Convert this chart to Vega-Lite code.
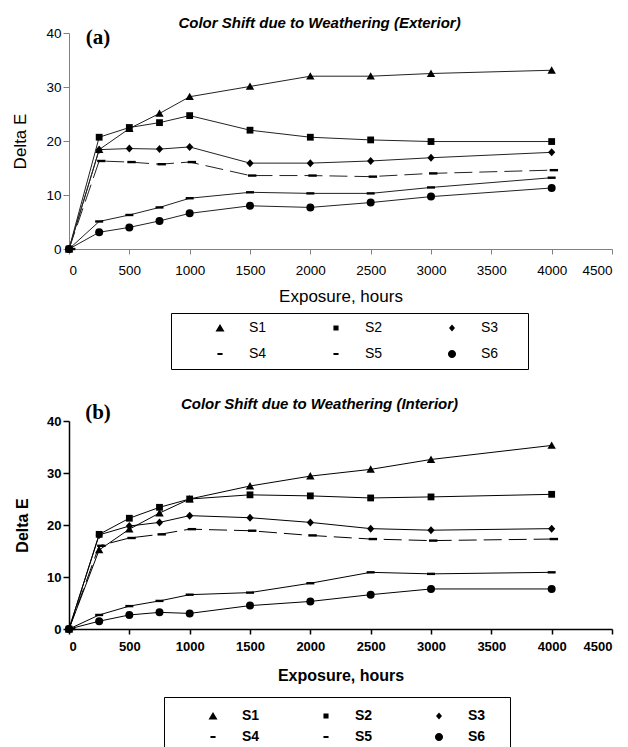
{
  "$schema": "https://vega.github.io/schema/vega-lite/v6.json",
  "background": "white",
  "padding": {"left": 11, "top": 16, "right": 5, "bottom": 0},
  "config": {
    "view": {"stroke": null},
    "font": "Liberation Sans",
    "axis": {"grid": false, "labelFont": "Liberation Sans", "titleFont": "Liberation Sans", "labelColor": "black", "titleColor": "black"}
  },
  "datasets": {
    "ext": [
      {"hours": 0, "series": "S1", "de": 0}, {"hours": 250, "series": "S1", "de": 18.4}, {"hours": 500, "series": "S1", "de": 22.3}, {"hours": 750, "series": "S1", "de": 25.1}, {"hours": 1000, "series": "S1", "de": 28.2}, {"hours": 1500, "series": "S1", "de": 30.1}, {"hours": 2000, "series": "S1", "de": 32.0}, {"hours": 2500, "series": "S1", "de": 32.0}, {"hours": 3000, "series": "S1", "de": 32.5}, {"hours": 4000, "series": "S1", "de": 33.1},
      {"hours": 0, "series": "S2", "de": 0}, {"hours": 250, "series": "S2", "de": 20.7}, {"hours": 500, "series": "S2", "de": 22.5}, {"hours": 750, "series": "S2", "de": 23.4}, {"hours": 1000, "series": "S2", "de": 24.7}, {"hours": 1500, "series": "S2", "de": 22.0}, {"hours": 2000, "series": "S2", "de": 20.7}, {"hours": 2500, "series": "S2", "de": 20.2}, {"hours": 3000, "series": "S2", "de": 19.9}, {"hours": 4000, "series": "S2", "de": 19.9},
      {"hours": 0, "series": "S3", "de": 0}, {"hours": 250, "series": "S3", "de": 18.4}, {"hours": 500, "series": "S3", "de": 18.6}, {"hours": 750, "series": "S3", "de": 18.5}, {"hours": 1000, "series": "S3", "de": 18.9}, {"hours": 1500, "series": "S3", "de": 15.9}, {"hours": 2000, "series": "S3", "de": 15.9}, {"hours": 2500, "series": "S3", "de": 16.3}, {"hours": 3000, "series": "S3", "de": 16.9}, {"hours": 4000, "series": "S3", "de": 17.9},
      {"hours": 0, "series": "S4", "de": 0}, {"hours": 250, "series": "S4", "de": 16.3}, {"hours": 500, "series": "S4", "de": 16.1}, {"hours": 750, "series": "S4", "de": 15.7}, {"hours": 1000, "series": "S4", "de": 16.1}, {"hours": 1500, "series": "S4", "de": 13.6}, {"hours": 2000, "series": "S4", "de": 13.6}, {"hours": 2500, "series": "S4", "de": 13.4}, {"hours": 3000, "series": "S4", "de": 14.0}, {"hours": 4000, "series": "S4", "de": 14.6},
      {"hours": 0, "series": "S5", "de": 0}, {"hours": 250, "series": "S5", "de": 5.1}, {"hours": 500, "series": "S5", "de": 6.3}, {"hours": 750, "series": "S5", "de": 7.7}, {"hours": 1000, "series": "S5", "de": 9.4}, {"hours": 1500, "series": "S5", "de": 10.5}, {"hours": 2000, "series": "S5", "de": 10.3}, {"hours": 2500, "series": "S5", "de": 10.3}, {"hours": 3000, "series": "S5", "de": 11.4}, {"hours": 4000, "series": "S5", "de": 13.2},
      {"hours": 0, "series": "S6", "de": 0}, {"hours": 250, "series": "S6", "de": 3.1}, {"hours": 500, "series": "S6", "de": 4.0}, {"hours": 750, "series": "S6", "de": 5.2}, {"hours": 1000, "series": "S6", "de": 6.6}, {"hours": 1500, "series": "S6", "de": 8.0}, {"hours": 2000, "series": "S6", "de": 7.7}, {"hours": 2500, "series": "S6", "de": 8.6}, {"hours": 3000, "series": "S6", "de": 9.7}, {"hours": 4000, "series": "S6", "de": 11.3}
    ],
    "int": [
      {"hours": 0, "series": "S1", "de": 0}, {"hours": 250, "series": "S1", "de": 15.2}, {"hours": 500, "series": "S1", "de": 19.2}, {"hours": 750, "series": "S1", "de": 22.3}, {"hours": 1000, "series": "S1", "de": 25.0}, {"hours": 1500, "series": "S1", "de": 27.5}, {"hours": 2000, "series": "S1", "de": 29.4}, {"hours": 2500, "series": "S1", "de": 30.7}, {"hours": 3000, "series": "S1", "de": 32.6}, {"hours": 4000, "series": "S1", "de": 35.3},
      {"hours": 0, "series": "S2", "de": 0}, {"hours": 250, "series": "S2", "de": 18.2}, {"hours": 500, "series": "S2", "de": 21.3}, {"hours": 750, "series": "S2", "de": 23.4}, {"hours": 1000, "series": "S2", "de": 25.0}, {"hours": 1500, "series": "S2", "de": 25.8}, {"hours": 2000, "series": "S2", "de": 25.6}, {"hours": 2500, "series": "S2", "de": 25.2}, {"hours": 3000, "series": "S2", "de": 25.4}, {"hours": 4000, "series": "S2", "de": 25.9},
      {"hours": 0, "series": "S3", "de": 0}, {"hours": 250, "series": "S3", "de": 18.1}, {"hours": 500, "series": "S3", "de": 19.8}, {"hours": 750, "series": "S3", "de": 20.5}, {"hours": 1000, "series": "S3", "de": 21.8}, {"hours": 1500, "series": "S3", "de": 21.4}, {"hours": 2000, "series": "S3", "de": 20.5}, {"hours": 2500, "series": "S3", "de": 19.3}, {"hours": 3000, "series": "S3", "de": 19.0}, {"hours": 4000, "series": "S3", "de": 19.3},
      {"hours": 0, "series": "S4", "de": 0}, {"hours": 250, "series": "S4", "de": 16.0}, {"hours": 500, "series": "S4", "de": 17.5}, {"hours": 750, "series": "S4", "de": 18.2}, {"hours": 1000, "series": "S4", "de": 19.2}, {"hours": 1500, "series": "S4", "de": 18.9}, {"hours": 2000, "series": "S4", "de": 18.0}, {"hours": 2500, "series": "S4", "de": 17.3}, {"hours": 3000, "series": "S4", "de": 17.0}, {"hours": 4000, "series": "S4", "de": 17.3},
      {"hours": 0, "series": "S5", "de": 0}, {"hours": 250, "series": "S5", "de": 2.7}, {"hours": 500, "series": "S5", "de": 4.4}, {"hours": 750, "series": "S5", "de": 5.4}, {"hours": 1000, "series": "S5", "de": 6.6}, {"hours": 1500, "series": "S5", "de": 7.0}, {"hours": 2000, "series": "S5", "de": 8.8}, {"hours": 2500, "series": "S5", "de": 10.9}, {"hours": 3000, "series": "S5", "de": 10.6}, {"hours": 4000, "series": "S5", "de": 10.9},
      {"hours": 0, "series": "S6", "de": 0}, {"hours": 250, "series": "S6", "de": 1.5}, {"hours": 500, "series": "S6", "de": 2.7}, {"hours": 750, "series": "S6", "de": 3.2}, {"hours": 1000, "series": "S6", "de": 3.0}, {"hours": 1500, "series": "S6", "de": 4.5}, {"hours": 2000, "series": "S6", "de": 5.3}, {"hours": 2500, "series": "S6", "de": 6.6}, {"hours": 3000, "series": "S6", "de": 7.7}, {"hours": 4000, "series": "S6", "de": 7.7}
    ]
  },
  "spacing": 27,
  "resolve": {"scale": {"shape": "independent", "x": "independent", "y": "independent"}, "legend": {"shape": "independent"}},
  "vconcat": [
    {
      "width": 543,
      "height": 216,
      "title": {"text": "Color Shift due to Weathering (Exterior)", "font": "Liberation Sans", "fontSize": 15, "fontWeight": "bold", "fontStyle": "italic", "color": "black", "anchor": "middle", "frame": "group", "dx": -21, "offset": -5},
      "data": {"name": "ext"},
      "resolve": {"scale": {"shape": "independent"}, "legend": {"shape": "independent"}},
      "layer": [
        {
          "transform": [{"filter": "datum.series !== 'S4'"}],
          "mark": {"type": "line", "strokeWidth": 1, "color": "#222222"},
          "encoding": {
            "x": {"field": "hours", "type": "quantitative", "scale": {"domain": [0, 4500], "nice": false}, "axis": {"values": [0, 500, 1000, 1500, 2000, 2500, 3000, 3500, 4000, 4500], "format": "d", "title": "Exposure, hours", "domainColor": "#808080", "tickColor": "#808080", "tickSize": 5, "labelFontSize": 13.5, "labelPadding": 9, "titleFontSize": 17, "titleFontWeight": "normal", "titlePadding": 12}},
            "y": {"field": "de", "type": "quantitative", "scale": {"domain": [0, 40], "nice": false}, "axis": {"values": [0, 10, 20, 30, 40], "title": "Delta E", "domainColor": "#808080", "tickColor": "#808080", "tickSize": 6, "labelFontSize": 13.5, "labelPadding": 2, "titleFontSize": 17, "titleFontWeight": "normal", "titlePadding": 16}},
            "detail": {"field": "series", "type": "nominal"}
          }
        },
        {
          "transform": [{"filter": "datum.series === 'S4'"}],
          "mark": {"type": "line", "strokeWidth": 1, "color": "#222222", "strokeDash": [18, 7]},
          "encoding": {
            "x": {"field": "hours", "type": "quantitative"},
            "y": {"field": "de", "type": "quantitative"}
          }
        },
        {
          "mark": {"type": "point", "filled": true, "size": 64, "color": "black", "opacity": 1},
          "encoding": {
            "x": {"field": "hours", "type": "quantitative"},
            "y": {"field": "de", "type": "quantitative"},
            "shape": {
              "field": "series", "type": "nominal",
              "scale": {"domain": ["S1", "S2", "S3", "S4", "S5", "S6"], "range": ["M0,-1L1.05,0.85H-1.05Z", "M-0.85,-0.85H0.85V0.85H-0.85Z", "M0,-1L0.9,0L0,1L-0.9,0Z", "M-0.5,-0.3H1.6V0.3H-0.5Z", "M-1,-0.3H1V0.3H-1Z", "circle"]},
              "legend": null
            }
          }
        },
        {
          "transform": [{"filter": "false"}],
          "mark": {"type": "point", "filled": true, "fill": "black", "stroke": "black", "strokeWidth": 1, "opacity": 1},
          "encoding": {
            "x": {"field": "hours", "type": "quantitative"},
            "y": {"field": "de", "type": "quantitative"},
            "shape": {
              "field": "series", "type": "nominal",
              "scale": {"domain": ["S1", "S2", "S3", "S4", "S5", "S6"], "range": ["M-8.7,0H8.7M0,-1.3L1.5,1.2H-1.5Z", "M-8.7,0H8.7M-0.85,-0.85H0.85V0.85H-0.85Z", "M-8.7,0H8.7M0,-1.2L1,0L0,1.2L-1,0Z", "M-8.7,0H-2.2M-0.85,-0.35H0.85V0.35H-0.85ZM2.5,0H8.7", "M-8.7,0H8.7M-0.85,-0.35H0.85V0.35H-0.85Z", "M-8.7,0H8.7M-1.35,0A1.35,1.35,0,1,0,1.35,0A1.35,1.35,0,1,0,-1.35,0Z"]},
              "legend": {
                "title": " ", "titleOrient": "right", "titlePadding": 22, "titleFontSize": 14,
                "orient": "none", "legendX": 102, "legendY": 280, "direction": "horizontal", "columns": 3,
                "strokeColor": "black", "padding": 8, "symbolSize": 36, "symbolOffset": 34, "labelOffset": 22,
                "labelFontSize": 14, "labelFont": "Liberation Sans", "labelColor": "black", "columnPadding": 28, "rowPadding": 12,
                "symbolFillColor": "black", "symbolStrokeColor": "black", "symbolStrokeWidth": 1, "symbolOpacity": 1,
                "encode": {"symbols": {"fill": {"value": "black"}, "stroke": {"value": "#333333"}, "strokeWidth": {"value": 1}, "opacity": {"value": 1}}}
              }
            }
          }
        },
        {
          "data": {"values": [{}]},
          "mark": {"type": "text", "text": "(a)", "font": "Liberation Serif", "fontSize": 21, "fontWeight": "bold", "align": "center", "baseline": "middle", "dx": 29, "dy": 5, "color": "black"},
          "encoding": {"x": {"datum": 0, "type": "quantitative"}, "y": {"datum": 40, "type": "quantitative"}}
        }
      ]
    },
    {
      "width": 543,
      "height": 208,
      "title": {"text": "Color Shift due to Weathering (Interior)", "font": "Liberation Sans", "fontSize": 15, "fontWeight": "bold", "fontStyle": "italic", "color": "black", "anchor": "middle", "frame": "group", "dx": -21, "offset": -10},
      "data": {"name": "int"},
      "resolve": {"scale": {"shape": "independent"}, "legend": {"shape": "independent"}},
      "layer": [
        {
          "transform": [{"filter": "datum.series !== 'S4'"}],
          "mark": {"type": "line", "strokeWidth": 1, "color": "black"},
          "encoding": {
            "x": {"field": "hours", "type": "quantitative", "scale": {"domain": [0, 4500], "nice": false}, "axis": {"values": [0, 500, 1000, 1500, 2000, 2500, 3000, 3500, 4000, 4500], "format": "d", "title": "Exposure, hours", "domainColor": "black", "domainWidth": 1.5, "tickColor": "black", "tickWidth": 1.5, "tickSize": 5, "labelFontSize": 13, "labelFontWeight": "bold", "labelPadding": 6, "titleFontSize": 16, "titleFontWeight": "bold", "titlePadding": 14}},
            "y": {"field": "de", "type": "quantitative", "scale": {"domain": [0, 40], "nice": false}, "axis": {"values": [0, 10, 20, 30, 40], "title": "Delta E", "domainColor": "black", "domainWidth": 1.5, "tickColor": "black", "tickWidth": 1.5, "tickSize": 6, "labelFontSize": 13, "labelFontWeight": "bold", "labelPadding": 2, "titleFontSize": 16, "titleFontWeight": "bold", "titlePadding": 16}},
            "detail": {"field": "series", "type": "nominal"}
          }
        },
        {
          "transform": [{"filter": "datum.series === 'S4'"}],
          "mark": {"type": "line", "strokeWidth": 1, "color": "black", "strokeDash": [18, 7]},
          "encoding": {
            "x": {"field": "hours", "type": "quantitative"},
            "y": {"field": "de", "type": "quantitative"}
          }
        },
        {
          "mark": {"type": "point", "filled": true, "size": 64, "color": "black", "opacity": 1},
          "encoding": {
            "x": {"field": "hours", "type": "quantitative"},
            "y": {"field": "de", "type": "quantitative"},
            "shape": {
              "field": "series", "type": "nominal",
              "scale": {"domain": ["S1", "S2", "S3", "S4", "S5", "S6"], "range": ["M0,-1L1.05,0.85H-1.05Z", "M-0.85,-0.85H0.85V0.85H-0.85Z", "M0,-1L0.9,0L0,1L-0.9,0Z", "M-0.5,-0.3H1.6V0.3H-0.5Z", "M-1,-0.3H1V0.3H-1Z", "circle"]},
              "legend": null
            }
          }
        },
        {
          "transform": [{"filter": "false"}],
          "mark": {"type": "point", "filled": true, "fill": "black", "stroke": "black", "strokeWidth": 1, "opacity": 1},
          "encoding": {
            "x": {"field": "hours", "type": "quantitative"},
            "y": {"field": "de", "type": "quantitative"},
            "shape": {
              "field": "series", "type": "nominal",
              "scale": {"domain": ["S1", "S2", "S3", "S4", "S5", "S6"], "range": ["M-8.7,0H8.7M0,-1.3L1.5,1.2H-1.5Z", "M-8.7,0H8.7M-0.85,-0.85H0.85V0.85H-0.85Z", "M-8.7,0H8.7M0,-1.2L1,0L0,1.2L-1,0Z", "M-8.7,0H-2.2M-0.85,-0.35H0.85V0.35H-0.85ZM2.5,0H8.7", "M-8.7,0H8.7M-0.85,-0.35H0.85V0.35H-0.85Z", "M-8.7,0H8.7M-1.35,0A1.35,1.35,0,1,0,1.35,0A1.35,1.35,0,1,0,-1.35,0Z"]},
              "legend": {
                "title": " ", "titleOrient": "right", "titlePadding": 13, "titleFontSize": 14,
                "orient": "none", "legendX": 95, "legendY": 276, "direction": "horizontal", "columns": 3,
                "strokeColor": "black", "padding": 12, "symbolSize": 36, "symbolOffset": 30, "labelOffset": 22,
                "labelFontSize": 14, "labelFontWeight": "bold", "labelFont": "Liberation Sans", "labelColor": "black", "columnPadding": 29, "rowPadding": 7,
                "symbolFillColor": "black", "symbolStrokeColor": "black", "symbolStrokeWidth": 1, "symbolOpacity": 1,
                "encode": {"symbols": {"fill": {"value": "black"}, "stroke": {"value": "black"}, "strokeWidth": {"value": 1}, "opacity": {"value": 1}}}
              }
            }
          }
        },
        {
          "data": {"values": [{}]},
          "mark": {"type": "text", "text": "(b)", "font": "Liberation Serif", "fontSize": 21, "fontWeight": "bold", "align": "center", "baseline": "middle", "dx": 29, "dy": -8, "color": "black"},
          "encoding": {"x": {"datum": 0, "type": "quantitative"}, "y": {"datum": 40, "type": "quantitative"}}
        }
      ]
    }
  ]
}
